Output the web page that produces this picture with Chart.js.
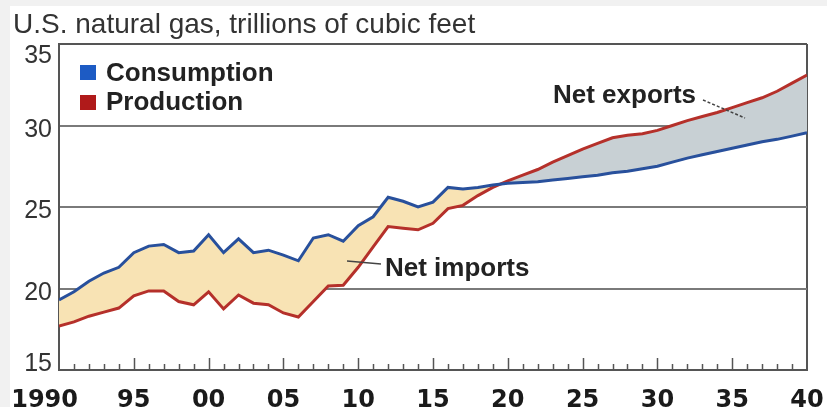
<!DOCTYPE html>
<html>
<head>
<meta charset="utf-8">
<script src="https://cdn.jsdelivr.net/npm/chart.js@4.4.1/dist/chart.umd.min.js"></script>
<style>
  html, body { margin: 0; padding: 0; background: #ffffff; }
  #wrap { position: relative; width: 827px; height: 407px; overflow: hidden; }
  canvas { display: block; }
</style>
</head>
<body>
<div id="wrap"><canvas id="c" width="827" height="407"></canvas></div>
<script>
// ---- data ----
const titleText = "U.S. natural gas, trillions of cubic feet";
const seriesNames = ["Consumption", "Production"];
const years = [];
for (let y = 1990; y <= 2040; y++) years.push(y);
const consumption = [
  19.3, 19.8, 20.45, 20.95, 21.3, 22.2, 22.6, 22.7, 22.2, 22.3,
  23.3, 22.2, 23.05, 22.2, 22.35, 22.05, 21.7, 23.1, 23.3, 22.9,
  23.85, 24.4, 25.6, 25.35, 25.0, 25.3, 26.2, 26.1, 26.2, 26.35,
  26.45, 26.5, 26.55, 26.65, 26.75, 26.85, 26.95, 27.1, 27.2, 27.35,
  27.5, 27.75, 28.0, 28.2, 28.4, 28.6, 28.8, 29.0, 29.15, 29.35,
  29.55
];
const production = [
  17.7, 17.95, 18.3, 18.55, 18.8, 19.55, 19.85, 19.85, 19.2, 19.0,
  19.8, 18.75, 19.6, 19.1, 19.0, 18.5, 18.25, 19.2, 20.15, 20.2,
  21.3, 22.55, 23.8, 23.7, 23.6, 24.0, 24.9, 25.1, 25.7, 26.2,
  26.6, 26.95, 27.3, 27.75, 28.15, 28.55, 28.9, 29.25, 29.4, 29.5,
  29.7, 30.0, 30.3, 30.55, 30.8, 31.1, 31.4, 31.7, 32.1, 32.6,
  33.1
];
const yTicks = [15, 20, 25, 30, 35];
const xTickValues = [1990, 1995, 2000, 2005, 2010, 2015, 2020, 2025, 2030, 2035, 2040];
const xTickLabels = ["1990", "95", "00", "05", "10", "15", "20", "25", "30", "35", "40"];
const annotations = ["Net exports", "Net imports"];

// ---- styles ----
const BLUE_LINE = "#28509c";
const RED_LINE = "#b5302a";
const BLUE_KEY = "#1d5bc4";
const RED_KEY = "#b01a1a";
const FILL_IMPORTS = "#f8e3b4";
const FILL_EXPORTS = "#c8d0d4";
const GRID = "#7a7a7a";
const AXIS = "#555555";
const TXT = "#333333";
const SANS = "'Liberation Sans', Arial, sans-serif";

const toPoints = (vals) => years.map((y, i) => ({ x: y, y: vals[i] }));

const decor = {
  id: "decor",
  beforeDraw(chart) {
    const ctx = chart.ctx;
    ctx.save();
    ctx.fillStyle = "#f1f1f1";
    ctx.fillRect(0, 0, 10, chart.height);
    ctx.fillRect(0, 0, chart.width, 6);
    ctx.restore();
  },
  afterDraw(chart) {
    const ctx = chart.ctx;
    const xs = chart.scales.x, ys = chart.scales.y;
    const area = chart.chartArea;
    ctx.save();
    // title
    ctx.fillStyle = TXT;
    ctx.font = "28px " + SANS;
    ctx.textAlign = "left";
    ctx.textBaseline = "alphabetic";
    ctx.fillText(titleText, 13, 33);

    // inward tick marks on x axis
    ctx.strokeStyle = AXIS;
    ctx.lineWidth = 1.5;
    for (let y = 1991; y < 2040; y++) {
      const px = Math.round(xs.getPixelForValue(y)) + 0.5;
      const len = (y % 5 === 0) ? 12 : 6;
      ctx.beginPath();
      ctx.moveTo(px, area.bottom);
      ctx.lineTo(px, area.bottom - len);
      ctx.stroke();
    }

    // y labels
    ctx.fillStyle = TXT;
    ctx.font = "25px " + SANS;
    ctx.textAlign = "right";
    yTicks.forEach(v => {
      let off = 11;
      if (v === 35) off = 19;
      if (v === 15) off = 1;
      ctx.fillText(String(v), 52, ys.getPixelForValue(v) + off);
    });

    // x labels
    ctx.fillStyle = "#1a1a1a";
    ctx.font = "bold 24px 'DejaVu Sans', sans-serif";
    xTickValues.forEach((v, i) => {
      const px = xs.getPixelForValue(v);
      if (i === 0) {
        ctx.textAlign = "right";
        ctx.fillText(xTickLabels[i], px + 19, 407);
      } else {
        ctx.textAlign = "center";
        ctx.fillText(xTickLabels[i], px, 407);
      }
    });

    // legend
    ctx.textAlign = "left";
    ctx.font = "bold 26px " + SANS;
    ctx.fillStyle = BLUE_KEY;
    ctx.fillRect(80, 65, 16, 15);
    ctx.fillStyle = RED_KEY;
    ctx.fillRect(80, 95, 16, 15);
    ctx.fillStyle = "#222";
    ctx.fillText(seriesNames[0], 106, 81);
    ctx.fillText(seriesNames[1], 106, 110);

    // annotations
    ctx.fillText(annotations[0], 553, 103);
    ctx.fillText(annotations[1], 385, 276);
    ctx.strokeStyle = "#444";
    ctx.lineWidth = 1.5;
    ctx.setLineDash([3, 2]);
    ctx.beginPath();
    ctx.moveTo(703, 100);
    ctx.lineTo(745, 118);
    ctx.stroke();
    ctx.setLineDash([]);
    ctx.beginPath();
    ctx.moveTo(347, 261);
    ctx.lineTo(381, 264);
    ctx.stroke();
    ctx.restore();
  }
};

new Chart(document.getElementById("c"), {
  type: "line",
  data: {
    datasets: [
      {
        label: seriesNames[0],
        data: toPoints(consumption),
        borderColor: BLUE_LINE,
        borderWidth: 3,
        pointRadius: 0,
        fill: false,
        tension: 0
      },
      {
        label: seriesNames[1],
        data: toPoints(production),
        borderColor: RED_LINE,
        borderWidth: 3,
        pointRadius: 0,
        tension: 0,
        fill: { target: 0, above: FILL_EXPORTS, below: FILL_IMPORTS }
      }
    ]
  },
  options: {
    responsive: false,
    animation: false,
    devicePixelRatio: 1,
    layout: { padding: { top: 44, right: 20, left: 0, bottom: 0 } },
    plugins: {
      legend: { display: false },
      tooltip: { enabled: false },
      title: { display: false }
    },
    scales: {
      x: {
        type: "linear",
        min: 1990,
        max: 2040,
        ticks: { display: false, stepSize: 5 },
        grid: {
          drawTicks: false,
          lineWidth: 2,
          color: (c) => (c.tick && c.tick.value === 2040) ? AXIS : "rgba(0,0,0,0)"
        },
        border: { display: true, color: AXIS, width: 2 },
        afterFit: (s) => { s.height = 37; }
      },
      y: {
        min: 15,
        max: 35,
        ticks: { display: false, stepSize: 5 },
        grid: {
          drawTicks: false,
          lineWidth: 2,
          color: (c) => (c.tick && c.tick.value === 35) ? AXIS : GRID
        },
        border: { display: true, color: AXIS, width: 2 },
        afterFit: (s) => { s.height = undefined; s.width = 59; }
      }
    }
  },
  plugins: [decor]
});
</script>
</body>
</html>
